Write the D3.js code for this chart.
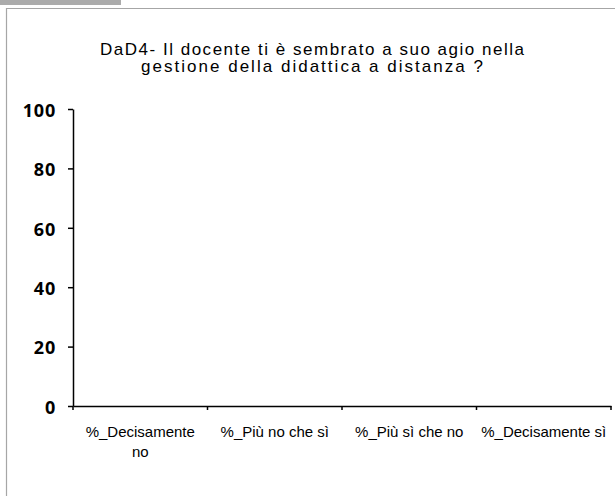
<!DOCTYPE html>
<html>
<head>
<meta charset="utf-8">
<script src="https://cdn.jsdelivr.net/npm/d3@7"></script>
<style>
  body { margin: 0; background: #fff; }
  svg { display: block; }
  .y.axis text { font-family: "Open Sans", sans-serif; font-weight: bold; font-size: 18px; letter-spacing: 0.8px; fill: #000; }
  .x.axis text { font-family: "Liberation Sans", Arial, sans-serif; font-size: 15px; fill: #000; }
  .axis path, .axis line { stroke: #000; stroke-width: 1.5px; }
  .title { font-family: "Liberation Sans", Arial, sans-serif; font-size: 17px; fill: #000; }
</style>
</head>
<body>
<div id="chart"></div>
<script>
var categories = ["%_Decisamente\nno", "%_Più no che sì", "%_Più sì che no", "%_Decisamente sì"];
var values = [0, 0, 0, 0];
var yTicks = [0, 20, 40, 60, 80, 100];
var titleLines = ["DaD4- Il docente ti è sembrato a suo agio nella", "gestione della didattica a distanza ?"];

var W = 615, H = 496;
var margin = {top: 109, right: 4, bottom: 90, left: 73},
    width = W - margin.left - margin.right,
    height = H - margin.top - margin.bottom;

var svg = d3.select("#chart").append("svg")
    .attr("width", W)
    .attr("height", H);

// grey tab and frame
svg.append("rect")
    .attr("x", 0).attr("y", 0)
    .attr("width", 121).attr("height", 5)
    .style("fill", "#ababab");

svg.append("path")
    .attr("d", "M6.5," + H + "V8.5H" + W)
    .style("fill", "none")
    .style("stroke", "#a6a6a6")
    .style("stroke-width", 1.2);

// excel spreads the title text, so stretch each line to the measured width
var titleWidths = [424, 342];
svg.append("text")
    .attr("class", "title")
    .attr("y", 54.5)
    .style("text-anchor", "middle")
  .selectAll("tspan")
    .data(titleLines)
  .enter().append("tspan")
    .attr("x", 312)
    .attr("dy", function(d, i) { return i ? 17.5 : 0; })
    .attr("textLength", function(d, i) { return titleWidths[i]; })
    .attr("lengthAdjust", "spacing")
    .text(function(d) { return d; });

var g = svg.append("g")
    .attr("transform", "translate(" + margin.left + "," + margin.top + ")");

var x = d3.scaleBand()
    .domain(categories)
    .range([0, width]);

var y = d3.scaleLinear()
    .domain([0, 100])
    .range([height, 0]);

var yAxis = d3.axisLeft(y)
    .tickValues(yTicks)
    .tickSizeInner(5)
    .tickSizeOuter(0)
    .tickPadding(12);

g.append("g")
    .attr("class", "y axis")
    .call(yAxis)
  .selectAll("text")
    .attr("dy", "0.4em");

var xAxis = d3.axisBottom(x)
    .tickSize(0)
    .tickFormat("");

var xg = g.append("g")
    .attr("class", "x axis")
    .attr("transform", "translate(0," + height + ")")
    .call(xAxis);

// tick marks at category boundaries
xg.selectAll(".bound")
    .data(d3.range(categories.length + 1))
  .enter().append("line")
    .attr("class", "bound")
    .attr("x1", function(i) { return i * x.step(); })
    .attr("x2", function(i) { return i * x.step(); })
    .attr("y1", 0)
    .attr("y2", 4);

xg.selectAll(".cat")
    .data(categories)
  .enter().append("text")
    .attr("class", "cat")
    .attr("x", function(d) { return x(d) + x.bandwidth() / 2; })
    .attr("y", 30.5)
    .style("text-anchor", "middle")
    .each(function(d) {
      var t = d3.select(this);
      d.split("\n").forEach(function(s, i) {
        t.append("tspan")
            .attr("x", x(d) + x.bandwidth() / 2)
            .attr("dy", i ? 20 : 0)
            .text(s);
      });
    });

g.append("g").selectAll(".bar")
    .data(values)
  .enter().append("rect")
    .attr("class", "bar")
    .attr("x", function(d, i) { return x(categories[i]) + x.bandwidth() * 0.2; })
    .attr("width", x.bandwidth() * 0.6)
    .attr("y", function(d) { return y(d); })
    .attr("height", function(d) { return height - y(d); })
    .style("fill", "#4f81bd");
</script>
</body>
</html>
